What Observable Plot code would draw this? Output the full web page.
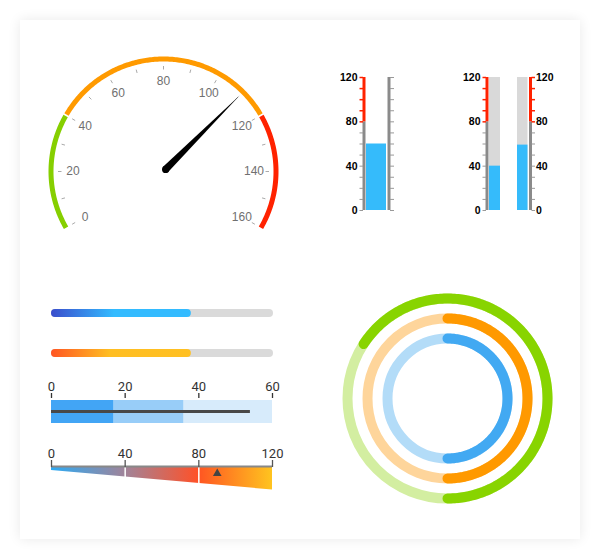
<!DOCTYPE html>
<html><head><meta charset="utf-8">
<script src="https://cdn.jsdelivr.net/npm/d3@7"></script>
<script src="https://cdn.jsdelivr.net/npm/@observablehq/plot@0.6"></script>
<style>
body{margin:0;background:#fff;}
#root{position:relative;width:600px;height:560px;overflow:hidden;font-family:"Liberation Sans",Arial,sans-serif;}
#card{position:absolute;left:20px;top:20px;width:560px;height:519px;background:#fff;box-shadow:0 0 12px rgba(0,0,0,0.09);}
#root svg{position:absolute;overflow:visible;background:none;}
</style></head><body>
<div id="root"><div id="card"></div>
<svg width="0" height="0" style="left:0;top:0"><defs>
<linearGradient id="gBlue" x1="0" x2="1" y1="0" y2="0"><stop offset="0" stop-color="#3a4dcc"/><stop offset="0.45" stop-color="#33bbff"/><stop offset="1" stop-color="#33bbff"/></linearGradient>
<linearGradient id="gOrange" x1="0" x2="1" y1="0" y2="0"><stop offset="0" stop-color="#ff5522"/><stop offset="0.42" stop-color="#ffbe22"/><stop offset="1" stop-color="#ffc022"/></linearGradient>
<linearGradient id="gWedge" x1="0" x2="1" y1="0" y2="0"><stop offset="0" stop-color="#2caaf4"/><stop offset="0.333" stop-color="#a0849a"/><stop offset="0.665" stop-color="#ff5128"/><stop offset="0.667" stop-color="#ff5522"/><stop offset="1" stop-color="#ffc41f"/></linearGradient>
</defs></svg>
</div>
<script>
// ---------- data ----------
const gaugeBands = [
  {from: 0, to: 40, color: "#86cf00"},
  {from: 40, to: 120, color: "#ff9a00"},
  {from: 120, to: 160, color: "#ff2200"}
];
const gaugeTicks = d3.range(0, 161, 10);
const gaugeLabels = [0, 20, 40, 60, 80, 100, 120, 140, 160];
const gaugeValue = 110;

const thermoZones = [
  {from: 0, to: 80, color: "#8a8a8a"},
  {from: 80, to: 120, color: "#ff2200"}
];
const thermoLabels = [0, 40, 80, 120];
const thermoMinor = d3.range(0, 121, 10);
const thermoValues = [60, 40, 59];
const thermoMax = [120];

const progressValues = [63, 63];
const progressMax = [100];

const bullet1Bands = [
  {from: 0, to: 17, color: "#42a5f5"},
  {from: 17, to: 36, color: "#98cdf8"},
  {from: 36, to: 60, color: "#d7ebfb"}
];
const bullet1Measure = [54];
const bullet1Ticks = [0, 20, 40, 60];

const bullet2Ticks = [0, 40, 80, 120];
const bullet2Wedge = [{v: 0, depth: 3}, {v: 120, depth: 22.5}];
const bullet2Dividers = [40, 80];
const bullet2Marker = [90];

const rings = [
  {name: "outer", radius: 100, start: -57, end: 180, color: "#88d400", track: "#d3eea1"},
  {name: "middle", radius: 80, start: 0, end: 180, color: "#ff9900", track: "#fed59b"},
  {name: "inner", radius: 60, start: 0, end: 180, color: "#42a9f2", track: "#b3dcf8"}
];

// ---------- helpers ----------
const root = document.getElementById("root");
function place(svg, left, top) {
  svg.style.left = left + "px";
  svg.style.top = top + "px";
  root.appendChild(svg);
}
const gAng = v => (-120 + v / 160 * 240) * Math.PI / 180;
const gx = (v, r) => r * Math.sin(gAng(v));
const gy = (v, r) => r * Math.cos(gAng(v));
const BLUE = "#35bbfb";

// ---------- gauge ----------
const R = 112.5;
const arcPts = gaugeBands.flatMap(b => d3.range(b.from, b.to + 1e-9, 0.5).map(v => ({v, color: b.color})));
place(Plot.plot({
  width: 240, height: 240, margin: 0,
  x: {domain: [-120, 120], axis: null},
  y: {domain: [-120, 120], axis: null},
  color: {type: "identity"},
  marks: [
    Plot.line(arcPts, {x: d => gx(d.v, R), y: d => gy(d.v, R), z: "color", stroke: "color", strokeWidth: 5, strokeLinecap: "butt"}),
    Plot.link([40, 120], {x1: v => gx(v, R - 4), y1: v => gy(v, R - 4), x2: v => gx(v, R + 4), y2: v => gy(v, R + 4), stroke: "white", strokeWidth: 1.5}),
    Plot.link(gaugeTicks, {x1: v => gx(v, 102), y1: v => gy(v, 102), x2: v => gx(v, 105.5), y2: v => gy(v, 105.5), stroke: "#aaa", strokeWidth: 1}),
    Plot.text(gaugeLabels, {x: v => gx(v, 90.5), y: v => gy(v, 90.5), text: d => String(d), fontSize: 12, fill: "#707070", fontFamily: "Liberation Sans, Arial"}),
    Plot.vector([gaugeValue], {x: v => gx(v, 3), y: v => gy(v, 3), rotate: v => -120 + v / 160 * 240, length: 105, r: 3.6, shape: "spike", anchor: "start", fill: "black", stroke: "none"}),
    Plot.dot([gaugeValue], {x: v => gx(v, 3), y: v => gy(v, 3), r: 3.6, fill: "black", stroke: "none"})
  ]
}), 42.5, 50.5);

// ---------- thermometers ----------
function thermo({value, left, mL, fw, mR, leftLine, rightLine, labelsSide, bg}) {
  const marks = [];
  if (bg) marks.push(Plot.rect(thermoMax, {y1: () => 0, y2: d => d, fill: "#d9d9d9"}));
  marks.push(Plot.rect([value], {y1: () => 0, y2: d => d, fill: BLUE}));
  if (leftLine) {
    marks.push(Plot.ruleX(thermoZones, {x: () => 0, y1: "from", y2: "to", stroke: "color", strokeWidth: 3, dx: -2.5}));
    marks.push(Plot.axisY(thermoMinor.filter(d => d < 80), {anchor: "left", tickSize: 3.5, dx: -3, stroke: "#999", tickFormat: () => "", label: null}));
    marks.push(Plot.axisY(thermoMinor.filter(d => d >= 80), {anchor: "left", tickSize: 3.5, dx: -3, stroke: "#ff2200", strokeWidth: 1.5, tickFormat: () => "", label: null}));
  }
  if (rightLine === "plain") {
    marks.push(Plot.ruleX(thermoMax, {x: () => 1, y1: () => 0, y2: d => d, stroke: "#8a8a8a", strokeWidth: 3, dx: 2.5}));
    marks.push(Plot.axisY(thermoMinor, {anchor: "right", tickSize: 4, dx: 3, stroke: "#999", tickFormat: () => "", label: null}));
  } else if (rightLine === "zones") {
    marks.push(Plot.ruleX(thermoZones, {x: () => 1, y1: "from", y2: "to", stroke: "color", strokeWidth: 3, dx: 2.5}));
    marks.push(Plot.axisY(thermoMinor.filter(d => d < 80), {anchor: "right", tickSize: 3.5, dx: 3, stroke: "#999", tickFormat: () => "", label: null}));
    marks.push(Plot.axisY(thermoMinor.filter(d => d >= 80), {anchor: "right", tickSize: 3.5, dx: 3, stroke: "#ff2200", strokeWidth: 1.5, tickFormat: () => "", label: null}));
  }
  marks.push(Plot.axisY(thermoLabels, {anchor: labelsSide, tickSize: 0, tickPadding: labelsSide === "left" ? 9 : 8, fontSize: 10.5, fontWeight: "bold", fill: "#000", label: null, fontFamily: "Liberation Sans, Arial"}));
  place(Plot.plot({
    width: mL + fw + mR, height: 145,
    marginTop: 7, marginBottom: 5, marginLeft: mL, marginRight: mR,
    x: {domain: [0, 1], axis: null},
    y: {domain: [0, 120]},
    color: {type: "identity"},
    marks
  }), left, 70);
}
thermo({value: thermoValues[0], left: 330, mL: 36, fw: 20, mR: 14, leftLine: true, rightLine: "plain", labelsSide: "left", bg: false});
thermo({value: thermoValues[1], left: 450, mL: 39, fw: 11, mR: 5, leftLine: true, rightLine: null, labelsSide: "left", bg: true});
thermo({value: thermoValues[2], left: 511.5, mL: 5, fw: 10.5, mR: 40, leftLine: false, rightLine: "zones", labelsSide: "right", bg: true});

// ---------- progress bars ----------
["url(#gBlue)", "url(#gOrange)"].forEach((fill, i) => {
  place(Plot.plot({
    width: 222, height: 8, margin: 0,
    x: {domain: [0, 100], axis: null},
    marks: [
      Plot.rect(progressMax, {x1: () => 0, x2: d => d, rx: 4, fill: "#dadada"}),
      Plot.rect([progressValues[i]], {x1: () => 0, x2: d => d, rx: 4, fill})
    ]
  }), 51, 309.3 + i * 40);
});

// ---------- bullet 1 ----------
place(Plot.plot({
  width: 261, height: 53, marginTop: 30, marginBottom: 0, marginLeft: 20, marginRight: 20,
  x: {domain: [0, 60]},
  color: {type: "identity"},
  marks: [
    Plot.rect(bullet1Bands, {x1: "from", x2: "to", fill: "color"}),
    Plot.rect(bullet1Measure, {x1: () => 0, x2: d => d, insetTop: 10, insetBottom: 10, fill: "#484848"}),
    Plot.axisX(bullet1Ticks, {anchor: "top", tickSize: 5, tickPadding: 2, dy: -3, fontSize: 13, fill: "#333", stroke: "#333", strokeWidth: 1.3, label: null, fontFamily: "Roboto"})
  ]
}), 31, 370);

// ---------- bullet 2 ----------
place(Plot.plot({
  width: 261, height: 50, marginTop: 27, marginBottom: 0, marginLeft: 20, marginRight: 20,
  x: {domain: [0, 120]},
  y: {domain: [0, 23], reverse: true, axis: null},
  marks: [
    Plot.areaY(bullet2Wedge, {x: "v", y1: () => 0, y2: "depth", fill: "url(#gWedge)"}),
    Plot.ruleX(bullet2Dividers, {stroke: "white", strokeWidth: 1.5}),
    Plot.ruleY([0], {stroke: "#888", strokeWidth: 2, dy: -1}),
    Plot.axisX(bullet2Ticks, {anchor: "top", tickSize: 7, tickPadding: 2, dy: -1, fontSize: 13, fill: "#333", stroke: "#555", strokeWidth: 1.3, label: null, fontFamily: "Roboto"}),
    Plot.dot(bullet2Marker, {x: d => d, y: () => 6, symbol: "triangle", r: 3.2, fill: "#444", stroke: "none"})
  ]
}), 31, 440);

// ---------- rings ----------
const ringArcs = rings.flatMap(d => d3.range(d.start, d.end + 1e-9, 1).map(a => ({name: d.name, a, radius: d.radius, color: d.color})));
place(Plot.plot({
  width: 220, height: 220, margin: 0,
  x: {domain: [-110, 110], axis: null},
  y: {domain: [-110, 110], axis: null},
  r: {type: "identity"},
  color: {type: "identity"},
  marks: [
    Plot.dot(rings, {x: () => 0, y: () => 0, r: "radius", stroke: "track", strokeWidth: 10, fill: "none"}),
    Plot.line(ringArcs, {x: p => p.radius * Math.sin(p.a * Math.PI / 180), y: p => p.radius * Math.cos(p.a * Math.PI / 180), z: "name", stroke: "color", strokeWidth: 10, strokeLinecap: "round"})
  ]
}), 337, 288);
</script>
</body></html>
